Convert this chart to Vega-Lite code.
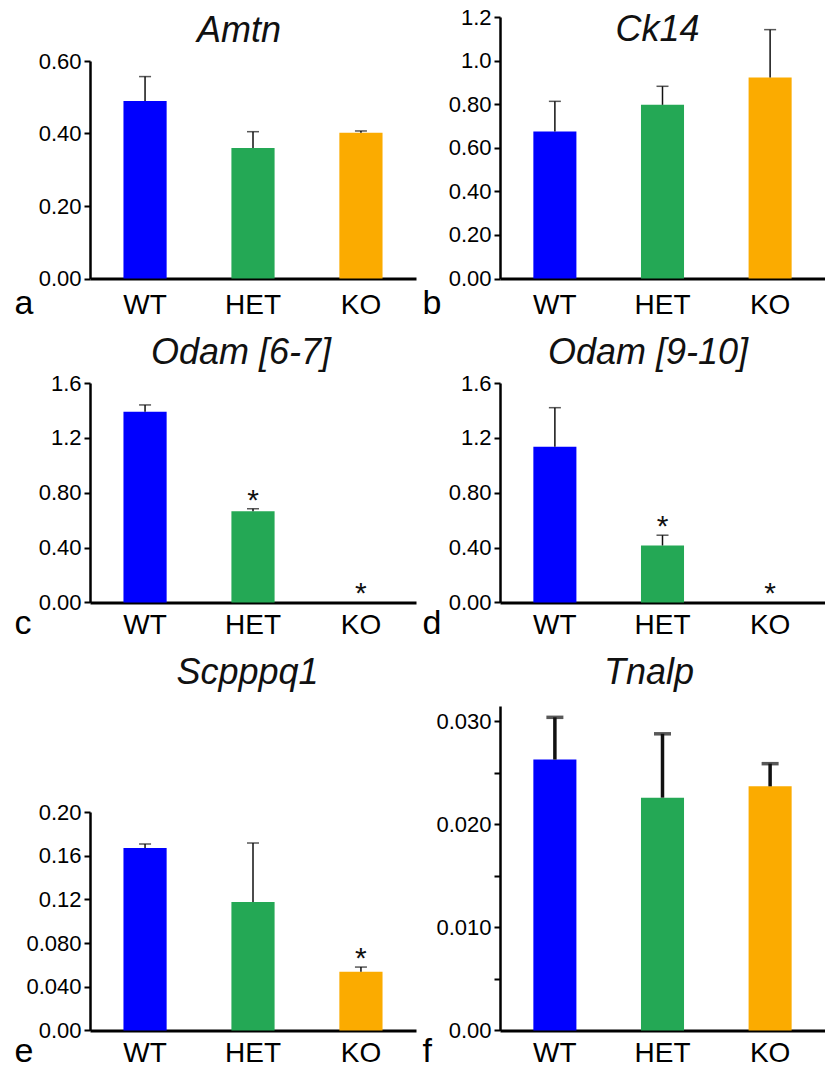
{
  "$schema": "https://vega.github.io/schema/vega-lite/v6.json",
  "padding": {"left": 14, "top": 6, "right": 0, "bottom": 0},
  "background": "white",
  "datasets": {
    "expr": [
      {"gene": "Amtn", "group": "WT", "mean": 0.49, "upper": 0.557, "star": ""},
      {"gene": "Amtn", "group": "HET", "mean": 0.36, "upper": 0.405, "star": ""},
      {"gene": "Amtn", "group": "KO", "mean": 0.402, "upper": 0.407, "star": ""},
      {"gene": "Ck14", "group": "WT", "mean": 0.675, "upper": 0.813, "star": ""},
      {"gene": "Ck14", "group": "HET", "mean": 0.797, "upper": 0.882, "star": ""},
      {"gene": "Ck14", "group": "KO", "mean": 0.922, "upper": 1.142, "star": ""},
      {"gene": "Odam [6-7]", "group": "WT", "mean": 1.39, "upper": 1.44, "star": ""},
      {"gene": "Odam [6-7]", "group": "HET", "mean": 0.665, "upper": 0.683, "star": "*"},
      {"gene": "Odam [6-7]", "group": "KO", "mean": 0, "upper": 0, "star": "*"},
      {"gene": "Odam [9-10]", "group": "WT", "mean": 1.135, "upper": 1.42, "star": ""},
      {"gene": "Odam [9-10]", "group": "HET", "mean": 0.415, "upper": 0.49, "star": "*"},
      {"gene": "Odam [9-10]", "group": "KO", "mean": 0, "upper": 0, "star": "*"},
      {"gene": "Scpppq1", "group": "WT", "mean": 0.167, "upper": 0.1707, "star": ""},
      {"gene": "Scpppq1", "group": "HET", "mean": 0.1176, "upper": 0.1716, "star": ""},
      {"gene": "Scpppq1", "group": "KO", "mean": 0.0538, "upper": 0.058, "star": "*"},
      {"gene": "Tnalp", "group": "WT", "mean": 0.0263, "upper": 0.0304, "star": ""},
      {"gene": "Tnalp", "group": "HET", "mean": 0.0226, "upper": 0.0288, "star": ""},
      {"gene": "Tnalp", "group": "KO", "mean": 0.0237, "upper": 0.0259, "star": ""}
    ]
  },
  "config": {
    "view": {"stroke": null},
    "concat": {"spacing": 6},
    "axis": {"grid": false, "labelFont": "Liberation Sans", "labelColor": "#000", "domainColor": "#000", "tickColor": "#000", "titleFont": "Liberation Sans", "titleFontWeight": "normal", "titleColor": "#000"},
    "axisY": {"labelFontSize": 22, "labelPadding": 3, "tickSize": 6, "tickWidth": 2, "domainWidth": 2.5, "labelBaseline": "middle", "title": null},
    "axisX": {"labelFontSize": 28, "labelAngle": 0, "ticks": false, "domainWidth": 3, "labelBaseline": "alphabetic", "titleFontSize": 34, "titleX": -76, "titleAlign": "left", "titleBaseline": "alphabetic", "titleAnchor": "start"},
    "title": {"font": "Liberation Sans", "fontStyle": "italic", "fontWeight": "normal", "fontSize": 36, "color": "#111", "frame": "group", "anchor": "middle"},
    "bar": {"stroke": null},
    "text": {"font": "Liberation Sans"}
  },
  "spacing": 15,
  "vconcat": [
    {
      "hconcat": [
        {
          "width": 326, "height": 261.5,
          "title": {"text": "Amtn", "offset": -33, "dx": -14},
          "data": {"name": "expr"},
          "transform": [{"filter": "datum.gene == 'Amtn'"}],
          "encoding": {"x": {"field": "group", "type": "nominal", "sort": ["WT", "HET", "KO"], "scale": {"paddingInner": 0.6, "paddingOuter": 0.31}, "axis": {"title": "a", "labelPadding": 34.5, "titleY": 34.5}}},
          "layer": [
            {"mark": {"type": "bar"}, "encoding": {"y": {"field": "mean", "type": "quantitative", "scale": {"domain": [0, 0.6], "range": [261.5, 44], "nice": false}, "axis": {"values": [0, 0.2, 0.4, 0.6], "format": ".2f"}}, "color": {"field": "group", "type": "nominal", "scale": {"domain": ["WT", "HET", "KO"], "range": ["#0000ff", "#24a855", "#fbab00"]}, "legend": null}}},
            {"transform": [{"filter": "datum.upper > datum.mean"}], "mark": {"type": "rule", "strokeWidth": 1.5, "color": "#111"}, "encoding": {"y": {"field": "mean", "type": "quantitative"}, "y2": {"field": "upper"}}},
            {"transform": [{"filter": "datum.upper > datum.mean"}], "mark": {"type": "tick", "thickness": 1.5, "size": 12, "color": "#111"}, "encoding": {"y": {"field": "upper", "type": "quantitative"}}}
          ]
        },
        {
          "width": 325, "height": 261.5,
          "title": {"text": "Ck14", "offset": -43, "dx": -5},
          "data": {"name": "expr"},
          "transform": [{"filter": "datum.gene == 'Ck14'"}],
          "encoding": {"x": {"field": "group", "type": "nominal", "sort": ["WT", "HET", "KO"], "scale": {"paddingInner": 0.6, "paddingOuter": 0.31}, "axis": {"title": "b", "labelPadding": 34.5, "titleY": 34.5, "titleX": -78}}},
          "layer": [
            {"mark": {"type": "bar"}, "encoding": {"y": {"field": "mean", "type": "quantitative", "scale": {"domain": [0, 1.2], "nice": false}, "axis": {"values": [0, 0.2, 0.4, 0.6, 0.8, 1.0, 1.2], "labelExpr": "datum.value >= 0.999 ? format(datum.value, '.1f') : format(datum.value, '.2f')"}}, "color": {"field": "group", "type": "nominal", "scale": {"domain": ["WT", "HET", "KO"], "range": ["#0000ff", "#24a855", "#fbab00"]}, "legend": null}}},
            {"transform": [{"filter": "datum.upper > datum.mean"}], "mark": {"type": "rule", "strokeWidth": 1.5, "color": "#111"}, "encoding": {"y": {"field": "mean", "type": "quantitative"}, "y2": {"field": "upper"}}},
            {"transform": [{"filter": "datum.upper > datum.mean"}], "mark": {"type": "tick", "thickness": 1.5, "size": 12, "color": "#111"}, "encoding": {"y": {"field": "upper", "type": "quantitative"}}}
          ]
        }
      ]
    },
    {
      "hconcat": [
        {
          "width": 326, "height": 219.4,
          "title": {"text": "Odam [6-7]", "offset": 0, "dx": -12},
          "data": {"name": "expr"},
          "transform": [{"filter": "datum.gene == 'Odam [6-7]'"}],
          "encoding": {"x": {"field": "group", "type": "nominal", "sort": ["WT", "HET", "KO"], "scale": {"paddingInner": 0.6, "paddingOuter": 0.31}, "axis": {"title": "c", "labelPadding": 30.6, "titleY": 30.6}}},
          "layer": [
            {"mark": {"type": "bar"}, "encoding": {"y": {"field": "mean", "type": "quantitative", "scale": {"domain": [0, 1.6], "nice": false}, "axis": {"values": [0, 0.2, 0.4, 0.6, 0.8, 1.0, 1.2, 1.4, 1.6], "labelExpr": "abs(datum.value * 2.5 - round(datum.value * 2.5)) < 0.000001 ? (datum.value >= 0.999 ? format(datum.value, '.1f') : format(datum.value, '.2f')) : ''"}}, "color": {"field": "group", "type": "nominal", "scale": {"domain": ["WT", "HET", "KO"], "range": ["#0000ff", "#24a855", "#fbab00"]}, "legend": null}}},
            {"transform": [{"filter": "datum.upper > datum.mean"}], "mark": {"type": "rule", "strokeWidth": 1.5, "color": "#111"}, "encoding": {"y": {"field": "mean", "type": "quantitative"}, "y2": {"field": "upper"}}},
            {"transform": [{"filter": "datum.upper > datum.mean"}], "mark": {"type": "tick", "thickness": 1.5, "size": 12, "color": "#111"}, "encoding": {"y": {"field": "upper", "type": "quantitative"}}},
            {"transform": [{"filter": "datum.star == '*'"}], "mark": {"type": "text", "fontSize": 30, "baseline": "alphabetic", "dy": 1, "color": "#111"}, "encoding": {"y": {"field": "upper", "type": "quantitative"}, "text": {"field": "star"}}}
          ]
        },
        {
          "width": 325, "height": 219.4,
          "title": {"text": "Odam [9-10]", "offset": 0, "dx": -14.5},
          "data": {"name": "expr"},
          "transform": [{"filter": "datum.gene == 'Odam [9-10]'"}],
          "encoding": {"x": {"field": "group", "type": "nominal", "sort": ["WT", "HET", "KO"], "scale": {"paddingInner": 0.6, "paddingOuter": 0.31}, "axis": {"title": "d", "labelPadding": 30.6, "titleY": 30.6, "titleX": -78}}},
          "layer": [
            {"mark": {"type": "bar"}, "encoding": {"y": {"field": "mean", "type": "quantitative", "scale": {"domain": [0, 1.6], "nice": false}, "axis": {"values": [0, 0.2, 0.4, 0.6, 0.8, 1.0, 1.2, 1.4, 1.6], "labelExpr": "datum.value >= 0.999 ? format(datum.value, '.1f') : format(datum.value, '.2f')"}}, "color": {"field": "group", "type": "nominal", "scale": {"domain": ["WT", "HET", "KO"], "range": ["#0000ff", "#24a855", "#fbab00"]}, "legend": null}}},
            {"transform": [{"filter": "datum.upper > datum.mean"}], "mark": {"type": "rule", "strokeWidth": 1.5, "color": "#111"}, "encoding": {"y": {"field": "mean", "type": "quantitative"}, "y2": {"field": "upper"}}},
            {"transform": [{"filter": "datum.upper > datum.mean"}], "mark": {"type": "tick", "thickness": 1.5, "size": 12, "color": "#111"}, "encoding": {"y": {"field": "upper", "type": "quantitative"}}},
            {"transform": [{"filter": "datum.star == '*'"}], "mark": {"type": "text", "fontSize": 30, "baseline": "alphabetic", "dy": 1, "color": "#111"}, "encoding": {"y": {"field": "upper", "type": "quantitative"}, "text": {"field": "star"}}}
          ]
        }
      ]
    },
    {
      "hconcat": [
        {
          "width": 326, "height": 324.4,
          "title": {"text": "Scpppq1", "offset": 14, "dx": -5.5},
          "data": {"name": "expr"},
          "transform": [{"filter": "datum.gene == 'Scpppq1'"}],
          "encoding": {"x": {"field": "group", "type": "nominal", "sort": ["WT", "HET", "KO"], "scale": {"paddingInner": 0.6, "paddingOuter": 0.31}, "axis": {"title": "e", "labelPadding": 31, "titleY": 31}}},
          "layer": [
            {"mark": {"type": "bar"}, "encoding": {"y": {"field": "mean", "type": "quantitative", "scale": {"domain": [0, 0.2], "range": [324.4, 106], "nice": false}, "axis": {"values": [0, 0.04, 0.08, 0.12, 0.16, 0.2], "labelExpr": "datum.value == 0 ? '0.00' : (datum.value < 0.1 ? format(datum.value, '.3f') : format(datum.value, '.2f'))"}}, "color": {"field": "group", "type": "nominal", "scale": {"domain": ["WT", "HET", "KO"], "range": ["#0000ff", "#24a855", "#fbab00"]}, "legend": null}}},
            {"transform": [{"filter": "datum.upper > datum.mean"}], "mark": {"type": "rule", "strokeWidth": 1.5, "color": "#111"}, "encoding": {"y": {"field": "mean", "type": "quantitative"}, "y2": {"field": "upper"}}},
            {"transform": [{"filter": "datum.upper > datum.mean"}], "mark": {"type": "tick", "thickness": 1.5, "size": 12, "color": "#111"}, "encoding": {"y": {"field": "upper", "type": "quantitative"}}},
            {"transform": [{"filter": "datum.star == '*'"}], "mark": {"type": "text", "fontSize": 30, "baseline": "alphabetic", "dy": 1, "color": "#111"}, "encoding": {"y": {"field": "upper", "type": "quantitative"}, "text": {"field": "star"}}}
          ]
        },
        {
          "width": 325, "height": 324.4,
          "title": {"text": "Tnalp", "offset": 14, "dx": -13.5},
          "data": {"name": "expr"},
          "transform": [{"filter": "datum.gene == 'Tnalp'"}],
          "encoding": {"x": {"field": "group", "type": "nominal", "sort": ["WT", "HET", "KO"], "scale": {"paddingInner": 0.6, "paddingOuter": 0.31}, "axis": {"title": "f", "labelPadding": 31, "titleY": 31, "titleX": -78}}},
          "layer": [
            {"mark": {"type": "bar"}, "encoding": {"y": {"field": "mean", "type": "quantitative", "scale": {"domain": [0, 0.0315], "nice": false}, "axis": {"values": [0, 0.005, 0.01, 0.015, 0.02, 0.025, 0.03], "labelExpr": "datum.value == 0 ? '0.00' : (abs(datum.value * 100 - round(datum.value * 100)) < 0.000001 ? format(datum.value, '.3f') : '')"}}, "color": {"field": "group", "type": "nominal", "scale": {"domain": ["WT", "HET", "KO"], "range": ["#0000ff", "#24a855", "#fbab00"]}, "legend": null}}},
            {"transform": [{"filter": "datum.upper > datum.mean"}], "mark": {"type": "rule", "strokeWidth": 3.5, "color": "#111"}, "encoding": {"y": {"field": "mean", "type": "quantitative"}, "y2": {"field": "upper"}}},
            {"transform": [{"filter": "datum.upper > datum.mean"}], "mark": {"type": "tick", "thickness": 3.5, "size": 17, "color": "#111"}, "encoding": {"y": {"field": "upper", "type": "quantitative"}}}
          ]
        }
      ]
    }
  ]
}
